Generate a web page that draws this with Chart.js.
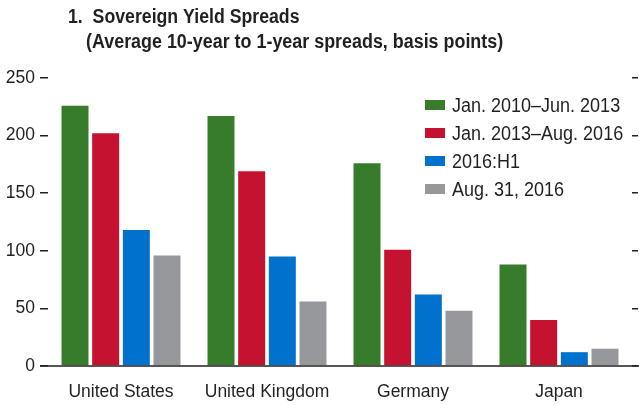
<!DOCTYPE html>
<html>
<head>
<meta charset="utf-8">
<script src="https://cdn.jsdelivr.net/npm/chart.js@4"></script>
<style>
  body { margin: 0; background: #fff; }
  #wrap { width: 639px; height: 405px; }
</style>
</head>
<body>
<div id="wrap"><canvas id="myChart" width="639" height="405"></canvas></div>
<script>
  const countries = ['United States', 'United Kingdom', 'Germany', 'Japan'];
  const periods = ['Jan. 2010\u2013Jun. 2013', 'Jan. 2013\u2013Aug. 2016', '2016:H1', 'Aug. 31, 2016'];
  const jan2010Jun2013 = [226, 217, 176, 88];
  const jan2013Aug2016 = [202, 169, 101, 40];
  const h1of2016 = [118, 95, 62, 12];
  const aug31of2016 = [96, 56, 48, 15];
  const yTicks = [0, 50, 100, 150, 200, 250];
  const colors = ['#367c2b', '#c41230', '#0072ce', '#97989c'];

  const FONT = "'Liberation Sans', Arial, sans-serif";
  const textColor = '#231f20';

  // narrow-looking text: squeeze horizontally
  function narrowText(ctx, text, x, y, sx) {
    ctx.save();
    ctx.translate(x, y);
    ctx.scale(sx, 1);
    ctx.fillText(text, 0, 0);
    ctx.restore();
  }

  // title, baseline and legend drawn by hand
  const extras = {
    id: 'extras',
    afterDraw(chart) {
      const ctx = chart.ctx;
      const y0 = chart.scales.y.getPixelForValue(0);
      ctx.save();
      ctx.strokeStyle = '#231f20';
      ctx.lineWidth = 1.5;
      ctx.beginPath();
      ctx.moveTo(40, y0);
      ctx.lineTo(639, y0);
      ctx.stroke();

      ctx.fillStyle = textColor;
      ctx.textBaseline = 'middle';
      ctx.font = 'bold 20px ' + FONT;
      narrowText(ctx, '1.  Sovereign Yield Spreads', 68, 17, 0.885);
      narrowText(ctx, '(Average 10-year to 1-year spreads, basis points)', 86, 42, 0.895);

      ctx.font = '20px ' + FONT;
      chart.data.datasets.forEach((ds, i) => {
        const cy = 105 + i * 28;
        ctx.fillStyle = ds.backgroundColor;
        ctx.fillRect(425, cy - 5, 20, 10);
        ctx.fillStyle = textColor;
        narrowText(ctx, ds.label, 452, cy + 1, 0.9);
      });
      ctx.restore();
    }
  };

  const series = [jan2010Jun2013, jan2013Aug2016, h1of2016, aug31of2016];

  new Chart(document.getElementById('myChart').getContext('2d'), {
    type: 'bar',
    data: {
      labels: countries,
      datasets: series.map((values, i) => ({
        label: periods[i],
        data: values,
        backgroundColor: colors[i],
        categoryPercentage: 0.84,
        barPercentage: 0.88
      }))
    },
    options: {
      responsive: false,
      animation: false,
      layout: { padding: { top: 78, left: 0, right: 0, bottom: 0 } },
      plugins: {
        legend: { display: false },
        tooltip: { enabled: false }
      },
      scales: {
        x: {
          grid: { display: false },
          border: { display: false },
          ticks: { color: textColor, font: { family: FONT, size: 17.5 }, padding: 8, maxRotation: 0, autoSkip: false },
          afterFit(scale) { scale.height = 39; }
        },
        y: {
          min: 0,
          max: 250,
          afterBuildTicks(scale) { scale.ticks = yTicks.map(v => ({ value: v })); },
          grid: { drawOnChartArea: false, tickLength: 8, color: '#231f20', lineWidth: 1.5 },
          border: { display: false },
          ticks: { color: textColor, font: { family: FONT, size: 17.5 }, padding: 5 },
          afterFit(scale) { scale.width = 48; }
        },
        y2: {
          position: 'right',
          min: 0,
          max: 250,
          afterBuildTicks(scale) { scale.ticks = yTicks.map(v => ({ value: v })); },
          grid: { drawOnChartArea: false, tickLength: 6, color: '#231f20', lineWidth: 1.5 },
          border: { display: false },
          ticks: { display: false },
          afterFit(scale) { scale.width = 7; }
        }
      }
    },
    plugins: [extras]
  });
</script>
</body>
</html>
